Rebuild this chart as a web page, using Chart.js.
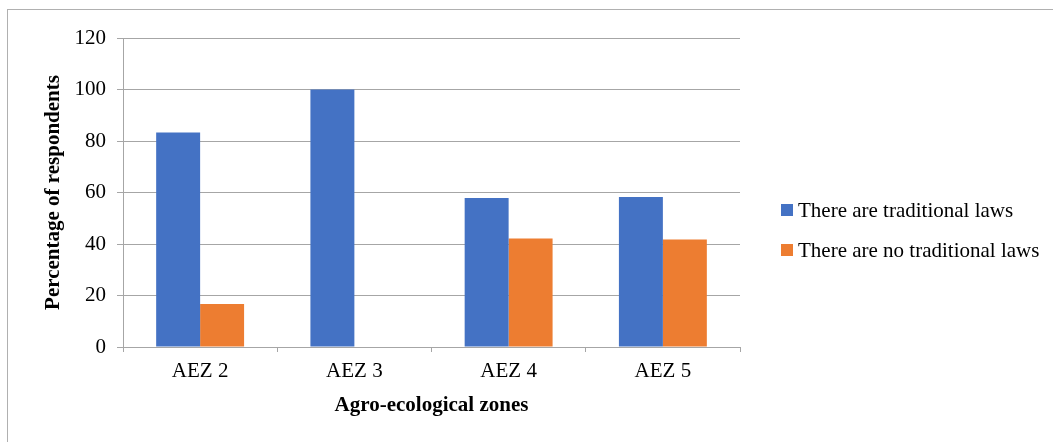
<!DOCTYPE html>
<html>
<head>
<meta charset="utf-8">
<script src="https://cdn.jsdelivr.net/npm/chart.js@4/dist/chart.umd.min.js"></script>
<style>
  html, body { margin: 0; padding: 0; background: #ffffff; overflow: hidden; }
  #wrap { position: relative; width: 1053px; height: 442px; }
  #frame { position: absolute; left: 7px; top: 9px; width: 1200px; height: 600px;
           border-top: 1px solid #b0b0b0; border-left: 1px solid #b0b0b0; pointer-events: none; }
  #chartBox { position: absolute; left: 0; top: 0; width: 1053px; height: 442px; }
  #legend { position: absolute; left: 781px; top: 190px; font-family: "Liberation Serif", "Times New Roman", serif;
            font-size: 21px; color: #000; }
  .item { display: flex; align-items: center; height: 40px; white-space: nowrap; }
  .sw { width: 12px; height: 12px; margin-right: 5px; flex: none; }
</style>
</head>
<body>
<div id="wrap">
  <div id="chartBox"><canvas id="c"></canvas></div>
  <div id="frame"></div>
  <div id="legend"></div>
</div>
<script>
const categories = ["AEZ 2", "AEZ 3", "AEZ 4", "AEZ 5"];
const seriesNames = ["There are traditional laws", "There are no traditional laws"];
const traditionalLaws = [83.3, 100, 57.9, 58.3];
const noTraditionalLaws = [16.7, 0, 42.1, 41.7];
const seriesColors = ["#4472C4", "#ED7D31"];
const yTitle = "Percentage of respondents";
const xTitle = "Agro-ecological zones";

const FONT = "'Liberation Serif', 'Times New Roman', serif";
const GRID = "#a6a6a6";

const data = {
  labels: categories,
  datasets: [
    { label: seriesNames[0], data: traditionalLaws, backgroundColor: seriesColors[0] },
    { label: seriesNames[1], data: noTraditionalLaws, backgroundColor: seriesColors[1] }
  ]
};

new Chart(document.getElementById('c'), {
  type: 'bar',
  data: data,
  options: {
    responsive: true,
    maintainAspectRatio: false,
    animation: false,
    layout: { padding: { top: 38, right: 313, bottom: 0, left: 0 } },
    datasets: { bar: { categoryPercentage: 0.57, barPercentage: 1.0 } },
    plugins: { legend: { display: false }, tooltip: { enabled: false } },
    scales: {
      x: {
        grid: { drawOnChartArea: false, color: GRID, tickLength: 5, offset: true },
        border: { color: GRID },
        ticks: { color: '#000', padding: 7, font: { family: FONT, size: 21 } },
        title: { display: true, text: xTitle, color: '#000',
                 font: { family: FONT, size: 21, weight: 'bold' }, padding: { top: 0, bottom: 24 } },
        afterFit: function (s) { s.height = 95; }
      },
      y: {
        min: 0, max: 120,
        ticks: { stepSize: 20, color: '#000', padding: 11, font: { family: FONT, size: 21 } },
        grid: { color: GRID, tickLength: 6 },
        border: { color: GRID },
        title: { display: true, text: yTitle, color: '#000',
                 font: { family: FONT, size: 21, weight: 'bold' }, padding: { top: 41, bottom: 0 } },
        afterFit: function (s) { s.width = 123; }
      }
    }
  }
});

const legendEl = document.getElementById('legend');
seriesNames.forEach(function (name, i) {
  const row = document.createElement('div');
  row.className = 'item';
  const sw = document.createElement('span');
  sw.className = 'sw';
  sw.style.background = seriesColors[i];
  const t = document.createElement('span');
  t.textContent = name;
  row.appendChild(sw);
  row.appendChild(t);
  legendEl.appendChild(row);
});
</script>
</body>
</html>
